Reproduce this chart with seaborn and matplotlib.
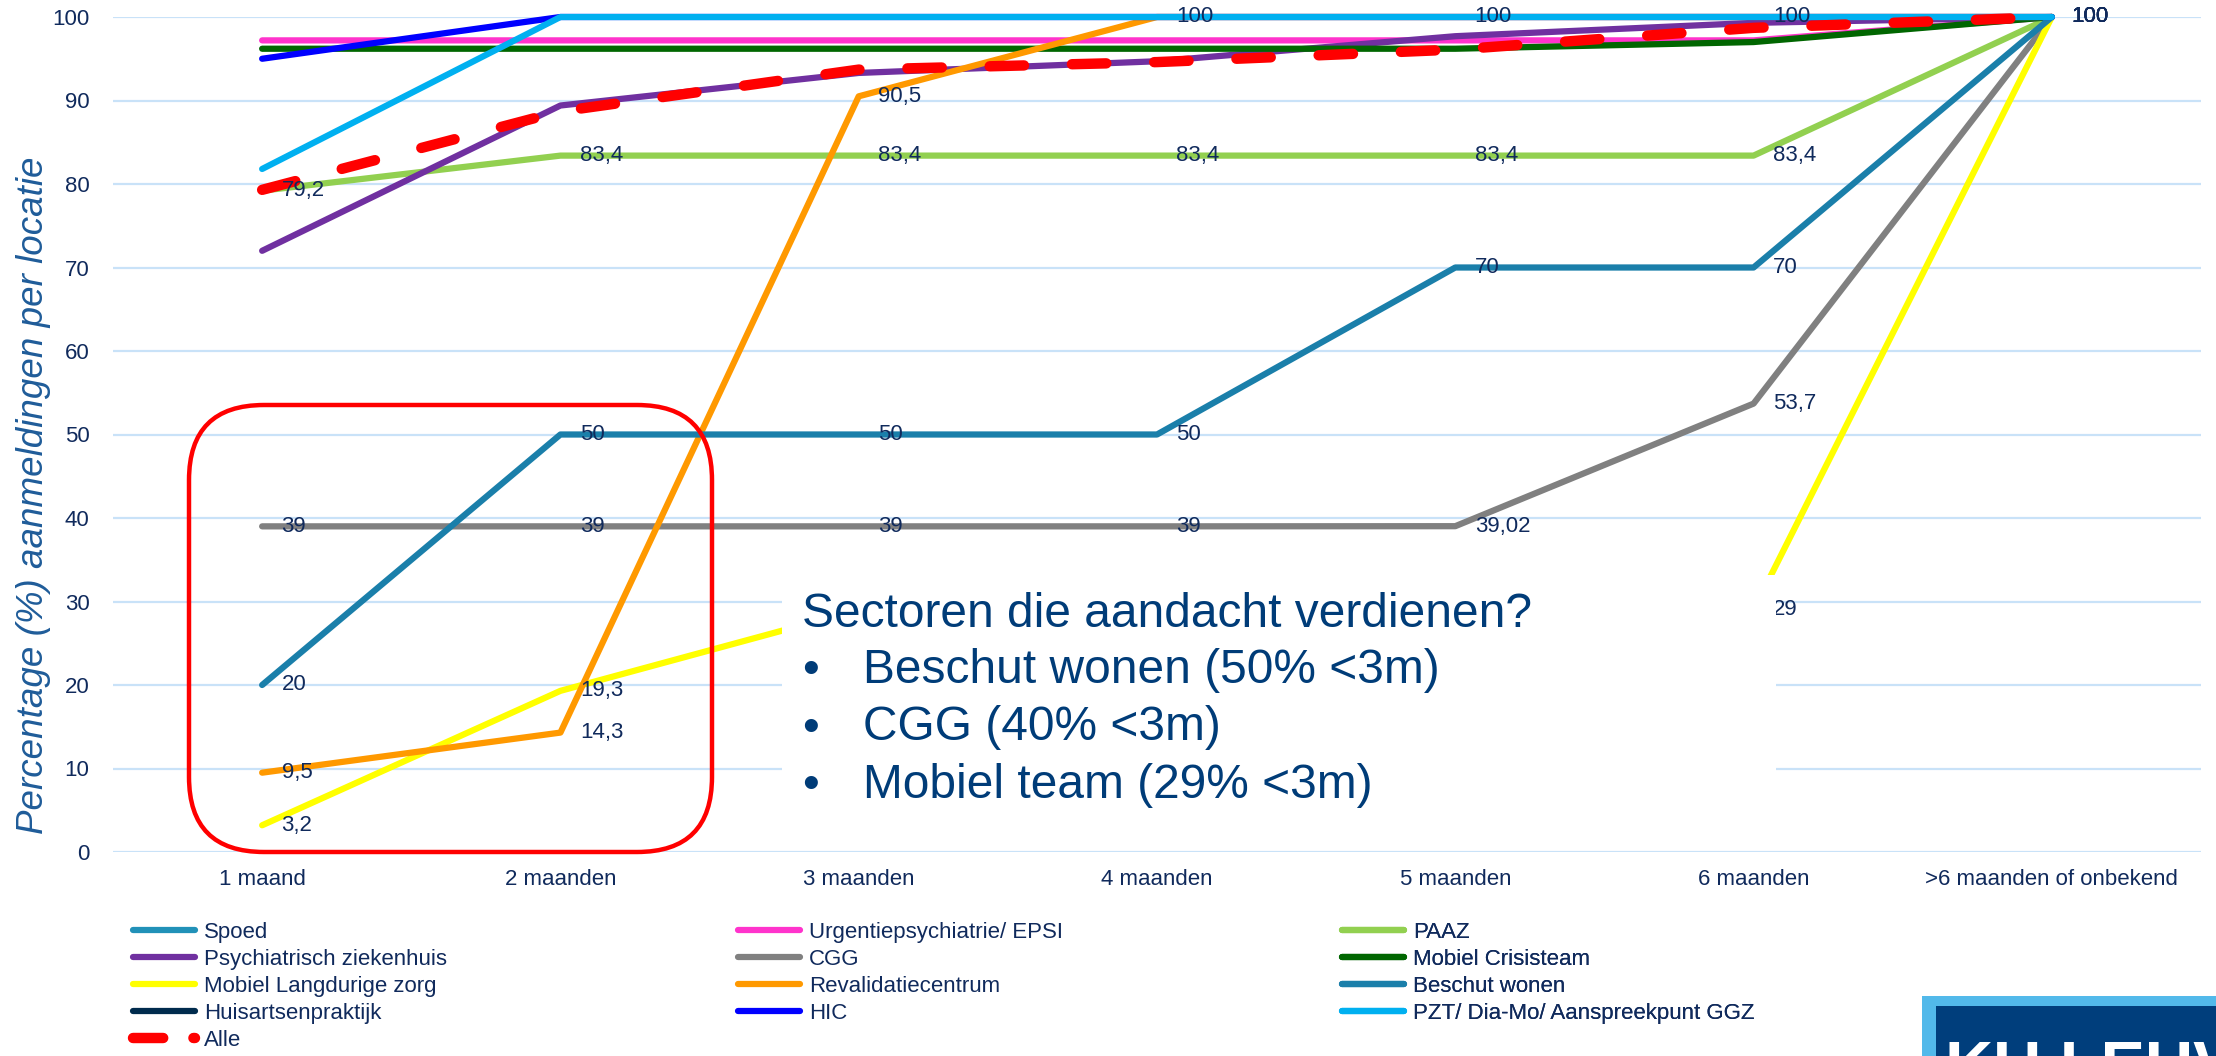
import numpy as np
import pandas as pd
import matplotlib.pyplot as plt
import seaborn as sns
from matplotlib.patches import Rectangle, FancyBboxPatch
from matplotlib.lines import Line2D

sns.set_theme(style="white")
plt.rcParams['font.family'] = ['Liberation Sans', 'DejaVu Sans']

W, H = 2216, 1056

# Categorieen (x-as)
categorieen = ["1 maand", "2 maanden", "3 maanden", "4 maanden",
               "5 maanden", "6 maanden", ">6 maanden of onbekend"]

# Cumulatieve percentages per locatie
spoed = []                      # niet zichtbaar in de grafiek
epsi = [97.2, 97.2, 97.2, 97.2, 97.2, 97.2, 100]
paaz = [79.2, 83.4, 83.4, 83.4, 83.4, 83.4, 100]
psych_zh = [72.0, 89.4, 93.3, 94.7, 97.7, 99.3, 100]
cgg = [39, 39, 39, 39, 39.02, 53.7, 100]
mobiel_crisis = [96.2, 96.2, 96.2, 96.2, 96.2, 97.0, 100]
mobiel_lang = [3.2, 19.3, 29, 29, 29, 29, 100]
revalidatie = [9.5, 14.3, 90.5, 100, 100, 100, 100]
beschut = [20, 50, 50, 50, 70, 70, 100]
huisarts = []                   # niet zichtbaar in de grafiek
hic = [95.0, 100, 100, 100, 100, 100, 100]
pzt = [81.8, 100, 100, 100, 100, 100, 100]
alle = [79.3, 88.7, 93.7, 94.6, 96.1, 98.7, 100]

reeksen = [
    ("Spoed", spoed, "#2191B8"),
    ("Urgentiepsychiatrie/ EPSI", epsi, "#FF33CC"),
    ("PAAZ", paaz, "#92D050"),
    ("Psychiatrisch ziekenhuis", psych_zh, "#7030A0"),
    ("CGG", cgg, "#808080"),
    ("Mobiel Crisisteam", mobiel_crisis, "#006600"),
    ("Mobiel Langdurige zorg", mobiel_lang, "#FFFF00"),
    ("Revalidatiecentrum", revalidatie, "#FF9900"),
    ("Beschut wonen", beschut, "#1A7FAA"),
    ("Huisartsenpraktijk", huisarts, "#002B4D"),
    ("HIC", hic, "#0000FF"),
    ("PZT/ Dia-Mo/ Aanspreekpunt GGZ", pzt, "#00B0F0"),
]
met_labels = ["PAAZ", "CGG", "Mobiel Langdurige zorg", "Revalidatiecentrum", "Beschut wonen"]

navy = "#102A5C"

fig = plt.figure(figsize=(W / 100, H / 100), dpi=100)
ax = fig.add_axes([113 / W, 1 - 852 / H, 2088 / W, 835 / H])

handles = {}
for naam, waarden, kleur in reeksen:
    if len(waarden) == 0:
        h, = ax.plot([], [], color=kleur, lw=4.5, solid_capstyle='round', label=naam)
    else:
        df = pd.DataFrame({'x': range(len(waarden)), 'y': waarden})
        sns.lineplot(data=df, x='x', y='y', color=kleur, linewidth=4.5, ax=ax, label=naam,
                     sort=False, solid_capstyle='round', clip_on=False)
        h = ax.get_lines()[-1]
    handles[naam] = h

df_alle = pd.DataFrame({'x': range(len(alle)), 'y': alle})
sns.lineplot(data=df_alle, x='x', y='y', color="#FF0000", linewidth=7.5, ax=ax, label="Alle",
             sort=False, clip_on=False)
h_alle = ax.get_lines()[-1]
h_alle.set_dashes((3.3, 4.6))
h_alle.set_dash_capstyle('round')
# legend-versie van de stippellijn (streep + punt zoals in Excel)
handles["Alle"] = Line2D([], [], color="#FF0000", lw=7.5, dashes=(2.9, 2.9),
                         dash_capstyle='round')

# data labels
for naam, waarden, kleur in reeksen:
    if naam in met_labels:
        for i, v in enumerate(waarden):
            ax.annotate(f"{v:g}".replace('.', ','), (i, v), xytext=(14, 0),
                        textcoords='offset points', ha='left', va='center',
                        fontsize=16, color=navy, zorder=10, annotation_clip=False)

ax.set_xlim(-0.5, 6.5)
ax.set_ylim(0, 100)
ax.set_yticks(range(0, 101, 10))
ax.set_xticks(range(len(categorieen)))
ax.set_xticklabels(categorieen)
ax.tick_params(axis='y', length=0, pad=17, labelsize=16, labelcolor=navy)
ax.tick_params(axis='x', length=0, pad=12, labelsize=16, labelcolor=navy)
ax.grid(axis='y', color="#C9E2F8", lw=1.6)
ax.set_axisbelow(True)
for s in ax.spines.values():
    s.set_visible(False)
ax.set_xlabel("")
ax.set_ylabel("Percentage (%) aanmeldingen per locatie", fontsize=26.5,
              style='italic', color="#1F5C99")
ax.yaxis.set_label_coords(-0.0295, 0.4275)

# legenda in drie kolommen
ax.get_legend().remove()
kolommen = [
    (["Spoed", "Psychiatrisch ziekenhuis", "Mobiel Langdurige zorg", "Huisartsenpraktijk", "Alle"], 133),
    (["Urgentiepsychiatrie/ EPSI", "CGG", "Revalidatiecentrum", "HIC"], 738),
    (["PAAZ", "Mobiel Crisisteam", "Beschut wonen", "PZT/ Dia-Mo/ Aanspreekpunt GGZ"], 1342),
]
for namen, xpos in kolommen:
    leg = ax.legend([handles[n] for n in namen], namen, loc='upper left',
                    bbox_to_anchor=(xpos / W, 1 - 922 / H), bbox_transform=fig.transFigure,
                    frameon=False, fontsize=16, labelcolor=navy, borderpad=0,
                    borderaxespad=0, handlelength=2.8, handletextpad=0.4,
                    labelspacing=0.27)
    ax.add_artist(leg)

# rode afgeronde kader
fig.add_artist(FancyBboxPatch((189 / 100, (H - 852) / 100), 523 / 100, 447 / 100,
                              boxstyle="round,pad=0,rounding_size=0.75",
                              transform=fig.dpi_scale_trans, fill=False,
                              ec="#FF0000", lw=3.2, zorder=2))

# tekstvak
fig.add_artist(Rectangle((782 / W, 1 - 838 / H), 994 / W, 263 / H,
                         transform=fig.transFigure, fc='white', ec='none', zorder=2))
tekst_kleur = "#003C78"
fig.text(802 / W, 1 - 627 / H, "Sectoren die aandacht verdienen?", fontsize=34.5,
         color=tekst_kleur, va='baseline', ha='left', zorder=3)
punten = ["Beschut wonen (50% <3m)", "CGG (40% <3m)", "Mobiel team (29% <3m)"]
for j, p in enumerate(punten):
    yb = 1 - (683 + j * 57.5) / H
    fig.text(802 / W, yb, "\u2022", fontsize=34.5, color=tekst_kleur, va='baseline', zorder=3)
    fig.text(863 / W, yb, p, fontsize=34.5, color=tekst_kleur, va='baseline', zorder=3)

# logo rechtsonder
fig.add_artist(Rectangle((1922 / W, 0), 294 / W, 60 / H, transform=fig.transFigure,
                         fc="#52B9EA", ec='none', zorder=2))
fig.add_artist(Rectangle((1936 / W, 0), 280 / W, 50 / H, transform=fig.transFigure,
                         fc="#003E7C", ec='none', zorder=2))
fig.text(1945 / W, 1 - 1040 / H, "KU LEUVEN", fontsize=48, fontweight='bold',
         color='white', va='top', ha='left', zorder=3)

fig.savefig("out.png", dpi=100)
